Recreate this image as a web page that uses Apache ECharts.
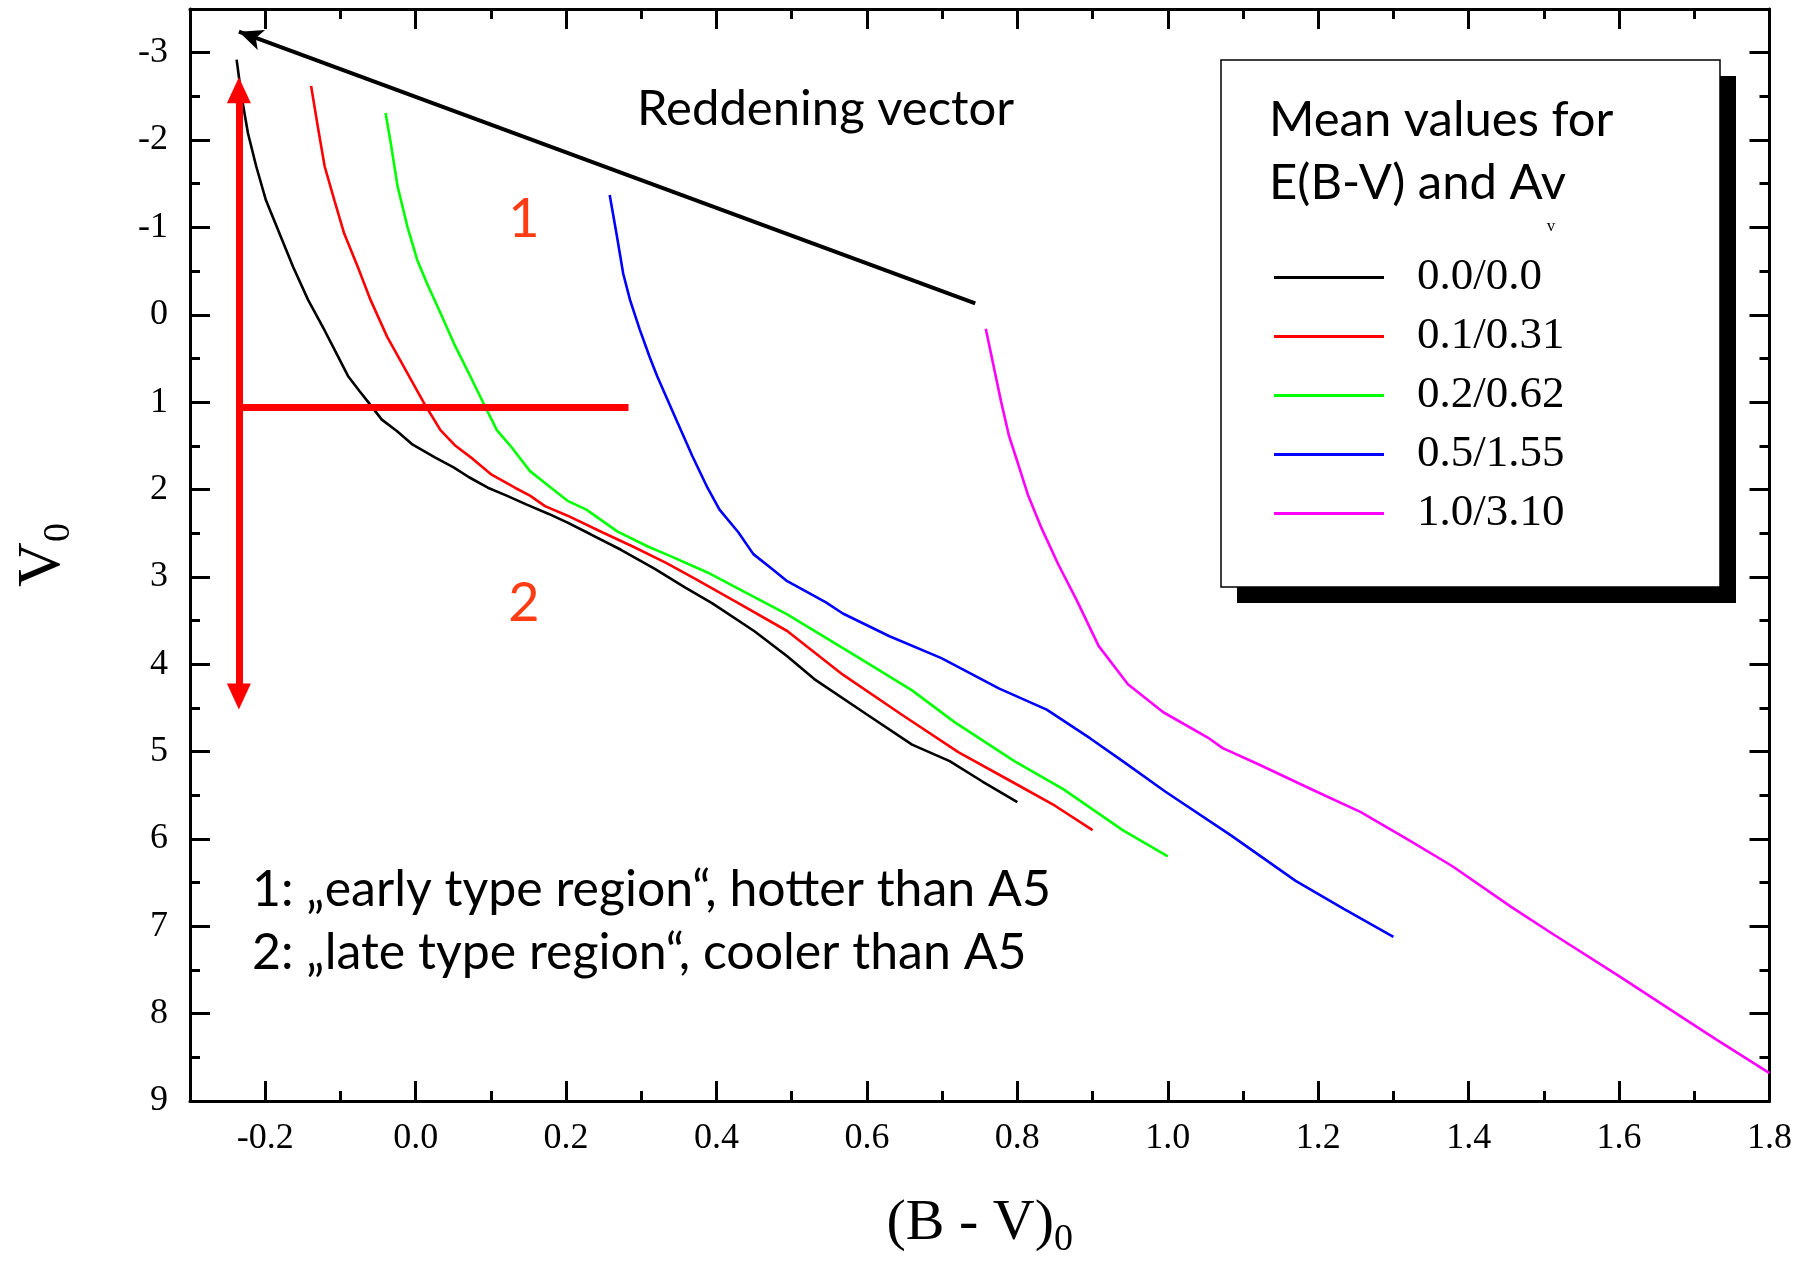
<!DOCTYPE html>
<html><head><meta charset="utf-8">
<script src="https://cdn.jsdelivr.net/npm/echarts@6/dist/echarts.min.js"></script>
<style>html,body{margin:0;padding:0;background:#fff}#c{width:1795px;height:1266px}</style>
</head><body><div id="c"></div>
<script>
// ---- data: [ (B-V)0 , V0 ] ----
const seriesNames = ['0.0/0.0', '0.1/0.31', '0.2/0.62', '0.5/1.55', '1.0/3.10'];
const curve_00_00 = [[-0.238,-2.92],[-0.232,-2.53],[-0.223,-2.08],[-0.212,-1.70],[-0.199,-1.31],[-0.181,-0.93],[-0.163,-0.55],[-0.143,-0.17],[-0.121,0.18],[-0.106,0.43],[-0.090,0.70],[-0.075,0.87],[-0.063,1.00],[-0.045,1.20],[-0.025,1.33],[-0.005,1.48],[0.025,1.63],[0.051,1.75],[0.071,1.86],[0.096,1.98],[0.121,2.07],[0.147,2.17],[0.177,2.28],[0.202,2.38],[0.232,2.51],[0.273,2.69],[0.318,2.91],[0.358,3.12],[0.394,3.30],[0.450,3.62],[0.494,3.91],[0.530,4.17],[0.599,4.57],[0.660,4.92],[0.710,5.11],[0.753,5.34],[0.800,5.58]];
const curve_01_031 = [[-0.139,-2.62],[-0.130,-2.15],[-0.121,-1.70],[-0.108,-1.31],[-0.095,-0.93],[-0.077,-0.55],[-0.060,-0.17],[-0.038,0.25],[-0.016,0.59],[0.011,1.01],[0.033,1.32],[0.053,1.50],[0.076,1.65],[0.101,1.83],[0.132,1.98],[0.152,2.07],[0.172,2.19],[0.202,2.30],[0.248,2.49],[0.288,2.65],[0.333,2.84],[0.373,3.03],[0.429,3.30],[0.494,3.62],[0.568,4.12],[0.645,4.57],[0.722,5.01],[0.800,5.38],[0.850,5.62],[0.900,5.90]];
const curve_02_062 = [[-0.040,-2.31],[-0.033,-1.96],[-0.024,-1.47],[-0.011,-1.01],[0.002,-0.63],[0.015,-0.36],[0.033,-0.02],[0.051,0.33],[0.073,0.71],[0.090,1.01],[0.108,1.32],[0.126,1.50],[0.152,1.79],[0.177,1.96],[0.202,2.13],[0.227,2.23],[0.268,2.48],[0.308,2.65],[0.338,2.76],[0.388,2.95],[0.439,3.18],[0.494,3.43],[0.584,3.90],[0.660,4.30],[0.716,4.66],[0.796,5.11],[0.861,5.43],[0.940,5.90],[1.000,6.20]];
const curve_05_155 = [[0.258,-1.37],[0.267,-0.93],[0.276,-0.47],[0.285,-0.17],[0.298,0.17],[0.311,0.48],[0.321,0.70],[0.348,1.23],[0.368,1.62],[0.388,1.98],[0.404,2.23],[0.429,2.49],[0.449,2.74],[0.474,2.91],[0.494,3.05],[0.545,3.29],[0.568,3.42],[0.630,3.68],[0.699,3.93],[0.776,4.28],[0.839,4.52],[0.897,4.85],[0.940,5.11],[0.997,5.46],[1.084,5.96],[1.170,6.48],[1.234,6.80],[1.300,7.12]];
const curve_10_310 = [[0.758,0.16],[0.768,0.57],[0.778,0.98],[0.789,1.39],[0.800,1.68],[0.814,2.06],[0.832,2.44],[0.854,2.85],[0.879,3.27],[0.908,3.79],[0.947,4.23],[0.994,4.55],[1.055,4.85],[1.073,4.96],[1.119,5.14],[1.198,5.46],[1.256,5.69],[1.320,6.01],[1.378,6.31],[1.457,6.78],[1.514,7.10],[1.600,7.57],[1.687,8.06],[1.730,8.30],[1.800,8.68]];
const curves = [curve_00_00, curve_01_031, curve_02_062, curve_05_155, curve_10_310];

// annotations (data coordinates; arrow ends are arrowhead centres)
const reddeningVector = [[0.744,-0.13],[-0.235,-3.24]];
const regionArrow = [[-0.235,-2.57],[-0.235,4.37]];
const regionDivider = [[-0.235,1.06],[0.283,1.06]];

// axes
const xRange = [-0.3, 1.8];
const yRange = [-3.5, 9];
const xMajorTicks = [-0.2,0,0.2,0.4,0.6,0.8,1.0,1.2,1.4,1.6,1.8];
const yMajorTicks = [-3,-2,-1,0,1,2,3,4,5,6,7,8,9];

// ---- chart ----
const colors = ['#000000','#ff0000','#00ff00','#0000ff','#ff00ff'];
const SERIF = 'Liberation Serif';
const axisLineStyle = {color:'#000', width:3};

function xAxisDef(pos, major, withLabels) {
  const a = {
    type:'value', min:xRange[0], max:xRange[1], position:pos, gridIndex:0,
    axisLine:{show:major, onZero:false, lineStyle:axisLineStyle},
    splitLine:{show:false},
    axisTick:{show:true, inside:true, length: major?20:10, lineStyle:{color:'#000', width:3}},
    axisLabel:{show:false}
  };
  if (major) {
    a.axisTick.customValues = xMajorTicks;
    a.axisLabel = {show:withLabels, customValues:xMajorTicks, formatter:v=>Number(v).toFixed(1),
      fontFamily:SERIF, fontSize:36, color:'#000', margin:20};
  } else {
    a.interval = 0.1;
  }
  return a;
}
function yAxisDef(pos, major, withLabels) {
  const a = {
    type:'value', min:yRange[0], max:yRange[1], inverse:true, position:pos, gridIndex:0,
    axisLine:{show:major, onZero:false, lineStyle:axisLineStyle},
    splitLine:{show:false},
    axisTick:{show:true, inside:true, length: major?20:10, lineStyle:{color:'#000', width:3}},
    axisLabel:{show:false}
  };
  if (major) {
    a.axisTick.customValues = yMajorTicks;
    a.axisLabel = {show:withLabels, customValues:yMajorTicks, formatter:v=>String(Math.round(v)),
      fontFamily:SERIF, fontSize:36, color:'#000', margin:22};
  } else {
    a.interval = 0.5;
  }
  return a;
}

const xAxes = [xAxisDef('bottom',true,true), xAxisDef('bottom',false,false), xAxisDef('top',true,false), xAxisDef('top',false,false)];
const yAxes = [yAxisDef('left',true,true), yAxisDef('left',false,false), yAxisDef('right',true,false), yAxisDef('right',false,false)];

xAxes[0].name = '{a|(B - V)}{s|0}';
xAxes[0].nameLocation = 'middle';
xAxes[0].nameGap = 88;
xAxes[0].nameTextStyle = {rich:{
  a:{fontFamily:SERIF, fontSize:58, color:'#000', lineHeight:70},
  s:{fontFamily:SERIF, fontSize:38, color:'#000', lineHeight:40, verticalAlign:'bottom'}
}};
yAxes[0].name = '{a|V}{s|0}';
yAxes[0].nameLocation = 'middle';
yAxes[0].nameRotate = 90;
yAxes[0].nameGap = 112;
yAxes[0].nameTextStyle = {rich:{
  a:{fontFamily:SERIF, fontSize:62, color:'#000', lineHeight:70},
  s:{fontFamily:SERIF, fontSize:38, color:'#000', lineHeight:40, verticalAlign:'bottom'}
}};

const series = curves.map((d,i)=>({
  name: seriesNames[i], type:'line', data:d, xAxisIndex:0, yAxisIndex:0,
  showSymbol:false, symbol:'none', smooth:false, animation:false, clip:true,
  lineStyle:{color:colors[i], width:2.6}, itemStyle:{color:colors[i]},
  emphasis:{disabled:true}
}));

series.push({
  name:'annotations', type:'line', data:[], xAxisIndex:0, yAxisIndex:0, animation:false,
  markLine:{
    silent:true, animation:false, label:{show:false}, emphasis:{disabled:true},
    data:[
      [{coord:reddeningVector[0], symbol:'none', lineStyle:{color:'#000', width:4, type:'solid'}},
       {coord:reddeningVector[1], symbol:'arrow', symbolSize:[16,24]}],
      [{coord:regionArrow[0], symbol:'triangle', symbolSize:[24,26], lineStyle:{color:'#ff0000', width:7, type:'solid'}},
       {coord:regionArrow[1], symbol:'triangle', symbolSize:[24,26]}],
      [{coord:regionDivider[0], symbol:'none', lineStyle:{color:'#ff0000', width:7, type:'solid'}},
       {coord:regionDivider[1], symbol:'none'}]
    ]
  }
});

function txt(x, y, s, font, fill, align) {
  return {type:'text', z:5, silent:true, style:{x:x, y:y, text:s, font:font, fill:fill,
    align:align||'left', verticalAlign:'middle', textAlign:align||'left', textVerticalAlign:'middle'}};
}

const option = {
  backgroundColor:'#ffffff',
  animation:false,
  grid:{left:190, right:24, top:9, bottom:165, containLabel:false},
  xAxis: xAxes,
  yAxis: yAxes,
  legend:{
    orient:'vertical', left:1269, top:250, icon:'rect', itemWidth:110, itemHeight:3, itemGap:14,
    selectedMode:false, z:10, data:seriesNames,
    textStyle:{fontFamily:SERIF, fontSize:45, lineHeight:44, color:'#000', padding:[0,0,0,28]}
  },
  series: series,
  graphic:[
    {type:'rect', z:1, silent:true, shape:{x:1237, y:76, width:499, height:527}, style:{fill:'#000'}},
    {type:'rect', z:2, silent:true, shape:{x:1221, y:60, width:499, height:527}, style:{fill:'#fff', stroke:'#000', lineWidth:1.5}},
    txt(1269, 120, 'Mean values for', '49px Lato', '#000'),
    txt(1269, 183, 'E(B-V) and Av', '49px Lato', '#000'),
    txt(1551, 227, 'v', '17px "Liberation Serif"', '#000', 'center'),
    txt(637, 109, 'Reddening vector', '49px Lato', '#000'),
    txt(524, 220, '1', '54px Lato', '#ff3c14', 'center'),
    txt(524, 604, '2', '54px Lato', '#ff3c14', 'center'),
    txt(252, 890, '1: \u201Eearly type region\u201C, hotter than A5', '50px Lato', '#000'),
    txt(252, 953, '2: \u201Elate type region\u201C, cooler than A5', '50px Lato', '#000')
  ]
};

const chart = echarts.init(document.getElementById('c'), null, {renderer:'canvas', width:1795, height:1266});
chart.setOption(option);
</script></body></html>
